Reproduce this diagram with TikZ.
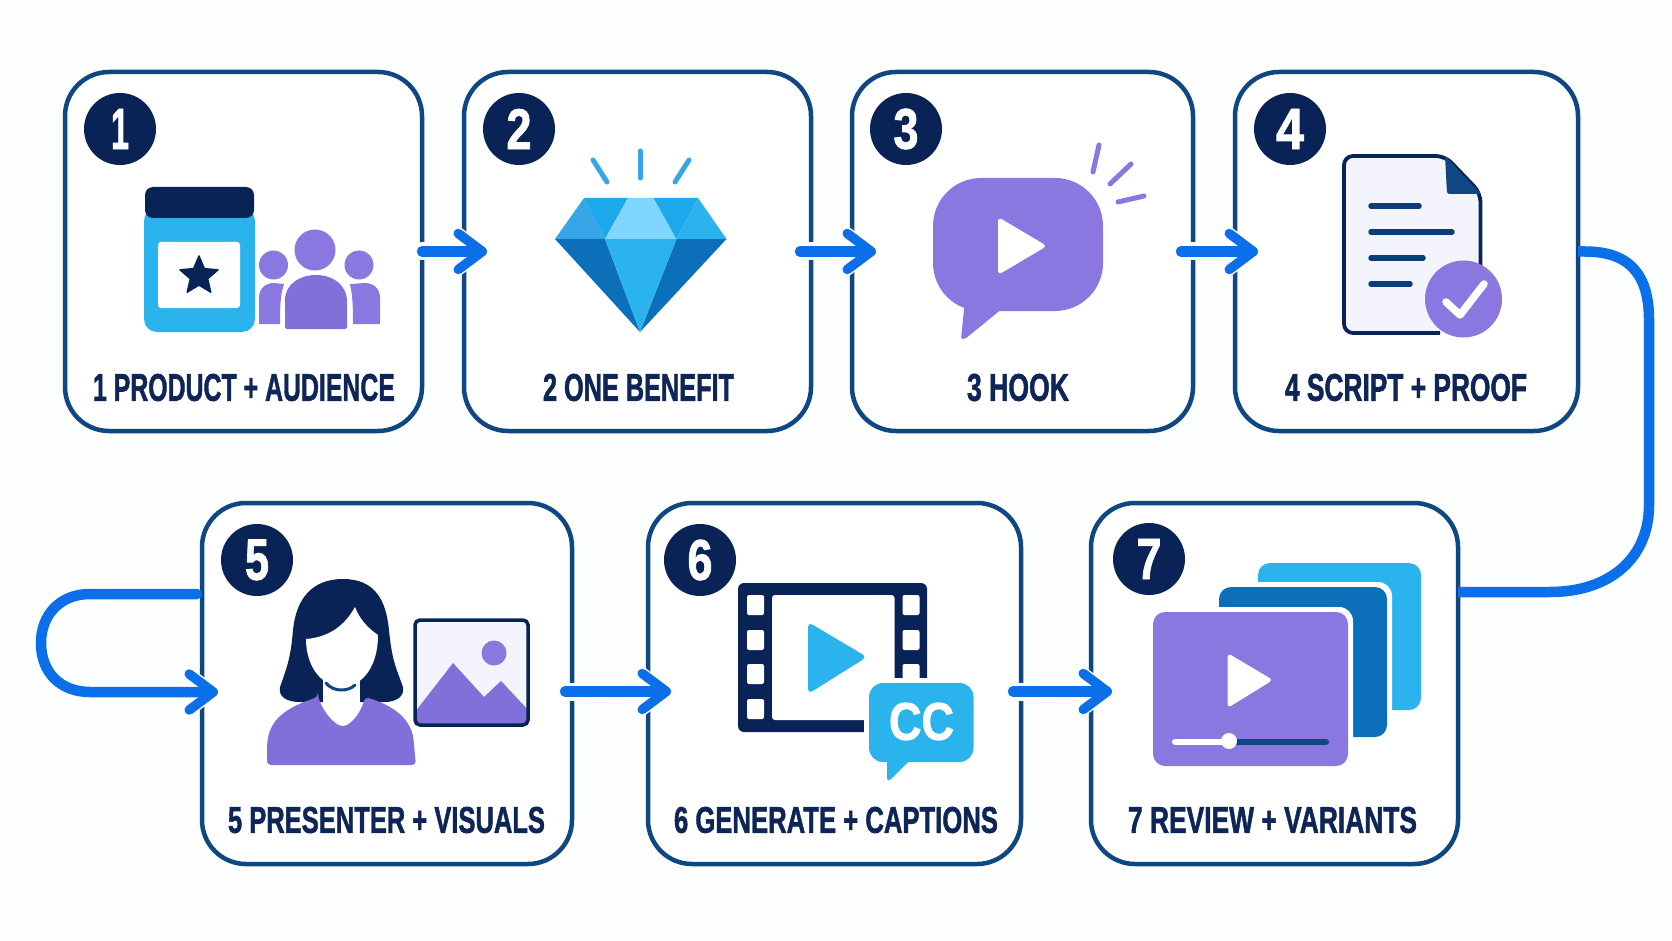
\documentclass[tikz,border=0pt]{standalone}
\usepackage{fontspec}
\usepackage{graphicx}
\setmainfont{Liberation Sans}[BoldFeatures={FakeBold=1.6}]
\usetikzlibrary{arrows.meta,shapes.geometric}
\definecolor{bgc}{HTML}{FDFEFE}
\definecolor{edge}{HTML}{0E4782}
\definecolor{navy}{HTML}{0A2357}
\definecolor{txt}{HTML}{0E2558}
\definecolor{flow}{HTML}{0B6FEA}
\definecolor{sky}{HTML}{2BB3EE}
\definecolor{skyb}{HTML}{1CA9EC}
\definecolor{skyc}{HTML}{37A6E6}
\definecolor{skyl}{HTML}{7FD6FF}
\definecolor{deep}{HTML}{0B6FBA}
\definecolor{lilac}{HTML}{8A78E0}
\definecolor{lilacd}{HTML}{8070DA}
\definecolor{paper}{HTML}{F3F4FD}
\definecolor{bar}{HTML}{0A3D7A}
\tikzset{
 box/.style={draw=edge,line width=4.5,fill=white,rounded corners=44,inner sep=0,outer sep=0},
 badge/.style={circle,fill=navy,minimum size=72,inner sep=0,outer sep=0,text=white},
 lbl/.style={inner sep=0,outer sep=0,text=txt},
 conn/.style={draw=flow,line width=10.5,line cap=round,-{Straight Barb[round,length=24pt,width=36pt,line width=9.5pt]}},
 halo/.style={draw=white,line width=18,line cap=round,-{Straight Barb[round,length=24pt,width=36pt,line width=17pt]}},
 ray/.style={line width=5,line cap=round},
 docbar/.style={draw=bar,line width=5.5,line cap=round},
}
\newcommand{\boxn}[5]{\node[box,minimum width=#4-#2,minimum height=#5-#3] (#1) at ({(#2+#4)/2},{(#3+#5)/2}) {};}
\newcommand{\lab}[6]{\node[lbl] (#1) at ({(#2+#3)/2},{(#4+#5)/2}) {\resizebox{\dimexpr#3pt-#2pt\relax}{\dimexpr#5pt-#4pt\relax}{\fontsize{30}{30}\selectfont\bfseries #6}};}
\newcommand{\dig}[6]{\node[badge] (#1) at (#2,#3) {\resizebox{#4pt}{#5pt}{\fontsize{30}{30}\selectfont\bfseries #6}};}
\begin{document}
\begin{tikzpicture}[x=1pt,y=-1pt]
\useasboundingbox (0,0) rectangle (1672,941);
\fill[bgc] (0,0) rectangle (1672,941);
% boxes
\boxn{b1}{65}{72}{422}{431}
\boxn{b2}{464}{72}{811}{431}
\boxn{b3}{852}{72}{1193}{431}
\boxn{b4}{1235}{72}{1578}{431}
\boxn{b5}{202}{503}{572}{864}
\boxn{b6}{648}{503}{1021}{864}
\boxn{b7}{1091}{503}{1458}{864}
% connectors: halo then line
\draw[halo,shorten >=-23pt] (b1.east) -- (b2.west);
\draw[conn,shorten >=-23pt] (b1.east) -- (b2.west);
\draw[halo,shorten <=-11pt,shorten >=-24pt] (b2.east) -- (b3.west);
\draw[conn,shorten <=-11pt,shorten >=-24pt] (b2.east) -- (b3.west);
\draw[halo,shorten <=-12pt,shorten >=-23pt] (b3.east) -- (b4.west);
\draw[conn,shorten <=-12pt,shorten >=-23pt] (b3.east) -- (b4.west);
\draw[halo,shorten <=-7pt,shorten >=-23pt] ([yshift=-8pt]b5.east) -- ([yshift=-8pt]b6.west);
\draw[conn,shorten <=-7pt,shorten >=-23pt] ([yshift=-8pt]b5.east) -- ([yshift=-8pt]b6.west);
\draw[halo,shorten <=-8pt,shorten >=-21pt] ([yshift=-8pt]b6.east) -- ([yshift=-8pt]b7.west);
\draw[conn,shorten <=-8pt,shorten >=-21pt] ([yshift=-8pt]b6.east) -- ([yshift=-8pt]b7.west);
% 4 -> 7
\coordinate (r1) at (1585,251.5);
\coordinate (r2) at (1649,320);
\coordinate (r3) at (1649,505);
\coordinate (r4) at (1550,592);
\draw[draw=flow,line width=10.5] (b4.east) -- (r1) .. controls (1630,251.5) and (1649,275) .. (r2) -- (r3) .. controls (1649,558) and (1610,592) .. (r4) -- ([yshift=91.5pt]b7.east);
% loop into 5
\coordinate (l1) at (90,594);
\coordinate (l2) at (41,643);
\coordinate (l3) at (90,692);
\draw[halo,shorten >=-16pt] (l3) -- ([yshift=-8.5pt]b5.west);
\draw[conn,shorten <=5pt,shorten >=-16pt] ([yshift=89.5pt]b5.west) -- (l1) .. controls (60,594) and (41,615) .. (l2) .. controls (41,672) and (60,692) .. (l3) -- ([yshift=-8.5pt]b5.west);
% badges
\dig{n1}{120}{129}{18}{40}{1}
\dig{n2}{519}{129}{25}{40}{2}
\dig{n3}{906}{129}{25}{40}{3}
\dig{n4}{1290}{129}{28}{40}{4}
\dig{n5}{257}{560}{24}{40}{5}
\dig{n6}{700}{560}{25}{40}{6}
\dig{n7}{1149}{559}{25}{40}{7}
% labels
\lab{t1}{93}{395}{374}{401}{1 PRODUCT + AUDIENCE}
\lab{t2}{543}{734}{374}{401}{2 ONE BENEFIT}
\lab{t3}{967}{1069}{374}{401}{3 HOOK}
\lab{t4}{1285}{1527}{374}{401}{4 SCRIPT + PROOF}
\lab{t5}{228}{545}{807}{833}{5 PRESENTER + VISUALS}
\lab{t6}{674}{998}{807}{833}{6 GENERATE + CAPTIONS}
\lab{t7}{1128}{1417}{807}{833}{7 REVIEW + VARIANTS}
% icon 1: jar
\fill[sky,rounded corners=13] (144,208) rectangle (255,332);
\fill[navy,rounded corners=8] (145,187) rectangle (254,218);
\fill[white,rounded corners=3] (158,242) rectangle (240,308);
\node[star,star points=5,star point ratio=2.2,fill=navy,draw=navy,line width=1.5,line join=round,minimum size=40,inner sep=0] (st) at (199,276) {};
\fill[lilac] (273.5,265) circle (14.5);
\fill[lilac] (359,265) circle (14.5);
\fill[lilac] (315,250) circle (20.5);
\fill[lilacd,rounded corners=2] (285,329) -- (285,302) [rounded corners=0] .. controls (285,284) and (300,275) .. (316,275) .. controls (332,275) and (347,284) .. (347,302) [rounded corners=2] -- (347,329) -- cycle;
\fill[lilac] (259,324) -- (259,298) .. controls (259,288) and (266,283) .. (274,283) -- (284,284) .. controls (281,294) and (280,300) .. (280,324) -- cycle;
\fill[lilac] (380,324) -- (380,298) .. controls (380,288) and (373,283) .. (365,283) -- (350,284) .. controls (352,294) and (353,300) .. (353,324) -- cycle;
% icon 2: diamond
\fill[deep] (555,239) -- (605,239) -- (640,332) -- cycle;
\fill[deep] (726.5,239) -- (676.5,239) -- (640,332) -- cycle;
\fill[sky] (605,239) -- (676.5,239) -- (640,332) -- cycle;
\fill[skyc] (584,198) -- (555,239) -- (605,239) -- cycle;
\fill[skyb] (584,198) -- (628,198) -- (605,239) -- cycle;
\fill[skyl] (628,198) -- (653.5,198) -- (676.5,239) -- (605,239) -- cycle;
\fill[skyb] (653.5,198) -- (698,198) -- (676.5,239) -- cycle;
\fill[sky] (698,198) -- (726.5,239) -- (676.5,239) -- cycle;
\draw[ray,draw=skyc] (593,160) -- (607,182);
\draw[ray,draw=skyc] (640,151) -- (640,178);
\draw[ray,draw=skyc] (689,160) -- (675,182);
% icon 3: bubble
\fill[lilac,rounded corners=48] (933,178) rectangle (1103,311);
\fill[lilac,rounded corners=2] (965,300) -- (961,339) -- (965,339) -- (1003,308) -- cycle;
\fill[white,rounded corners=4] (998,217) -- (998,275) -- (1047,246) -- cycle;
\draw[ray,draw=lilac] (1099,145) -- (1093,172);
\draw[ray,draw=lilac] (1131,164) -- (1110,184);
\draw[ray,draw=lilac] (1144,196) -- (1118,202);
% icon 4: document
\fill[paper] (1344,166) [rounded corners=9] -- (1344,156) -- (1445,156) -- (1480.5,193) -- (1480.5,333) -- (1344,333) -- cycle;
\draw[navy,line width=3.8,rounded corners=9] (1480.5,300) -- (1480.5,193) -- (1445,156) -- (1344,156) -- (1344,333) -- (1440,333);
\fill[edge,rounded corners=2] (1445,156) -- (1447,194) -- (1481,194) -- cycle;
\draw[docbar] (1371,206) -- (1419,206);
\draw[docbar] (1371,232) -- (1452,232);
\draw[docbar] (1371,258) -- (1423,258);
\draw[docbar] (1371,284) -- (1410,284);
\fill[lilac] (1463.5,299) circle (38.5);
\draw[white,line width=7.5,line cap=round,line join=round] (1446,302) -- (1460,315) -- (1484,284);
% icon 5: presenter
\fill[navy] (343,579) .. controls (375,579) and (386,600) .. (389,630) .. controls (392,660) and (395,665) .. (403,687) .. controls (405,697) and (395,702) .. (385,702) -- (300,702) .. controls (287,702) and (278,697) .. (280,687) .. controls (288,665) and (291,655) .. (293,630) .. controls (296,600) and (311,579) .. (343,579) -- cycle;
\fill[white] (355,607) .. controls (345,625) and (330,637) .. (306,639) .. controls (306,665) and (320,686) .. (342,687) .. controls (364,686) and (378,665) .. (378,635) .. controls (368,628) and (360,620) .. (355,607) -- cycle;
\fill[white] (323,676) -- (360,676) -- (360,710) -- (323,710) -- cycle;
\draw[edge,line width=3,line cap=round] (326,683) .. controls (333,692) and (348,692) .. (355,685);
\fill[lilacd,rounded corners=4] (267,765) -- (267,745) .. controls (270,720) and (285,708) .. (318,697) -- (318,697) .. controls (324,712) and (332,722) .. (343,727) .. controls (353,722) and (361,712) .. (365,697) .. controls (395,706) and (412,720) .. (414,745) -- (416,765) -- cycle;
\fill[paper,rounded corners=5] (415,620) rectangle (528,725);
\begin{scope}
\clip[rounded corners=5] (415,620) rectangle (528,725);
\fill[lilac] (494,653) circle (12.5);
\fill[lilacd] (415,712) -- (453,663) -- (484,697) -- (501,681) -- (530,712) -- (530,727) -- (415,727) -- cycle;
\end{scope}
\draw[navy,line width=3.5,rounded corners=5] (415,620) rectangle (528,725);
% icon 6: film
\fill[navy,rounded corners=6] (738,583) rectangle (927,732);
\fill[white,rounded corners=3] (772,595) rectangle (894.5,720);
\foreach \yy/\zz in {595/615,630/650,664/684,699/719} {
 \fill[white,rounded corners=2] (747,\yy) rectangle (764,\zz);
 \fill[white,rounded corners=2] (902.5,\yy) rectangle (919.5,\zz);
}
\fill[sky,rounded corners=5] (808,622) -- (808,694) -- (867,657) -- cycle;
\fill[white,rounded corners=18] (864,678) rectangle (979,767);
\fill[sky,rounded corners=14] (869,683) rectangle (973.5,762);
\fill[sky,rounded corners=1] (887,755) -- (887,780) -- (890,780) -- (912,758) -- cycle;
\node[inner sep=0,outer sep=0,text=white] (cc) at (921.5,721.5) {\resizebox{65pt}{37pt}{\fontsize{30}{30}\selectfont\bfseries CC}};
% icon 7: stack
\fill[sky,rounded corners=12] (1258,563) rectangle (1421,710);
\fill[white,rounded corners=14] (1214,582) rectangle (1392,742);
\fill[deep,rounded corners=12] (1219,587) rectangle (1387,737);
\fill[white,rounded corners=14] (1148,607) rectangle (1353,771);
\fill[lilac,rounded corners=12] (1153,612) rectangle (1348,766);
\fill[white,rounded corners=4] (1227.5,653) -- (1227.5,708) -- (1273,680) -- cycle;
\draw[white,line width=6,line cap=round] (1175,742) -- (1229,742);
\draw[edge,line width=6,line cap=round] (1229,742) -- (1326,742);
\fill[white] (1229,741) circle (8);
\end{tikzpicture}
\end{document}
